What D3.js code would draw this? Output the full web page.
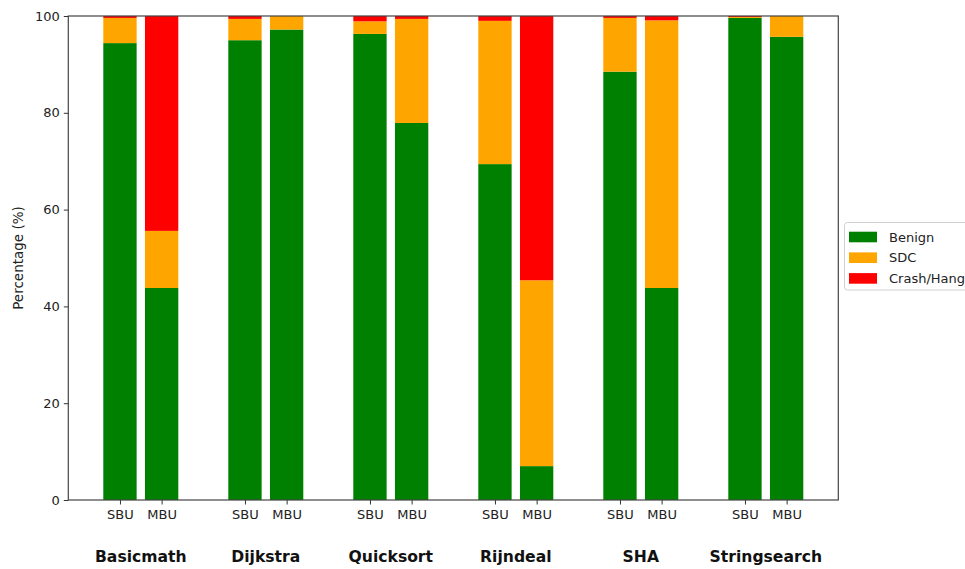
<!DOCTYPE html>
<html>
<head>
<meta charset="utf-8">
<script src="https://cdn.jsdelivr.net/npm/d3@7"></script>
<style>
  html, body { margin: 0; padding: 0; background: #fff; }
  svg { display: block; font-family: "DejaVu Sans", sans-serif; }
</style>
</head>
<body>
<svg id="chart" width="965" height="569"></svg>
<script>
// Benchmarks and upset types
const programs = ["Basicmath", "Dijkstra", "Quicksort", "Rijndeal", "SHA", "Stringsearch"];
const modes = ["SBU", "MBU"];
const outcomes = ["Benign", "SDC", "Crash/Hang"];
const colors = ["#008000", "#ffa500", "#ff0000"];

// Percentages per outcome, ordered SBU, MBU for each program
const benign = [94.4, 43.8, 95.0, 97.2, 96.3, 77.9, 69.4, 7.0, 88.5, 43.8, 99.6, 95.7];
const sdc    = [5.2, 11.8, 4.4, 2.8, 2.6, 21.5, 29.6, 38.4, 11.1, 55.3, 0.2, 4.3];
const crash  = [0.4, 44.4, 0.6, 0.0, 1.1, 0.6, 1.0, 54.6, 0.4, 0.9, 0.2, 0.0];

const yTicks = [0, 20, 40, 60, 80, 100];

const svg = d3.select("#chart");
const plotLeft = 68.3, plotRight = 838.3, plotTop = 16, plotBottom = 500;

// Bars sit at 3*i (SBU) and 3*i + 1 (MBU), width 0.8
const rows = [];
programs.forEach((p, i) => {
  modes.forEach((m, j) => {
    const k = i * 2 + j;
    rows.push({ program: p, mode: m, pos: i * 3 + j,
      Benign: benign[k], SDC: sdc[k], "Crash/Hang": crash[k] });
  });
});

const barW = 0.8;
const lo = -barW / 2, hi = 3 * (programs.length - 1) + 1 + barW / 2;
const pad = (hi - lo) * 0.05;
const x = d3.scaleLinear().domain([lo - pad, hi + pad]).range([plotLeft, plotRight]);
const y = d3.scaleLinear().domain([0, 100]).range([plotBottom, plotTop]);

const stack = d3.stack().keys(outcomes)(rows);

const g = svg.append("g");
stack.forEach((layer, li) => {
  g.selectAll(null).data(layer).join("rect")
    .attr("x", d => x(d.data.pos - barW / 2))
    .attr("width", d => x(barW) - x(0))
    .attr("y", d => y(Math.min(d[1], 100)))
    .attr("height", d => y(d[0]) - y(Math.min(d[1], 100)))
    .attr("fill", colors[li]);
});

// Y axis
const yAxis = svg.append("g")
  .attr("transform", `translate(${plotLeft},0)`)
  .call(d3.axisLeft(y).tickValues(yTicks).tickFormat(d3.format("d")).tickSize(4.5).tickPadding(4));
yAxis.select(".domain").remove();
yAxis.selectAll("line").attr("stroke", "#333").attr("stroke-width", 1);
yAxis.selectAll("text").attr("font-size", 13).attr("fill", "#222")
  .attr("font-family", "DejaVu Sans");

// X axis with SBU/MBU ticks
const xAxis = svg.append("g")
  .attr("transform", `translate(0,${plotBottom})`)
  .call(d3.axisBottom(x).tickValues(rows.map(r => r.pos))
    .tickFormat((d, i) => rows[i].mode).tickSize(4.5).tickPadding(5));
xAxis.select(".domain").remove();
xAxis.selectAll("line").attr("stroke", "#333").attr("stroke-width", 1);
xAxis.selectAll("text").attr("font-size", 13).attr("fill", "#222")
  .attr("font-family", "DejaVu Sans");

// Frame
svg.append("rect")
  .attr("x", plotLeft).attr("y", plotTop)
  .attr("width", plotRight - plotLeft).attr("height", plotBottom - plotTop)
  .attr("fill", "none").attr("stroke", "#444").attr("stroke-width", 1.2);

// Program names under each pair
svg.append("g").selectAll("text").data(programs).join("text")
  .attr("x", (d, i) => x(i * 3 + 0.5))
  .attr("y", 562)
  .attr("text-anchor", "middle")
  .attr("font-size", 15.6)
  .attr("font-weight", "bold")
  .attr("fill", "#111")
  .text(d => d);

// Y axis title
svg.append("text")
  .attr("transform", `translate(23,${(plotTop + plotBottom) / 2}) rotate(-90)`)
  .attr("text-anchor", "middle")
  .attr("font-size", 13.5)
  .attr("fill", "#222")
  .text("Percentage (%)");

// Legend
const lg = svg.append("g");
lg.append("rect")
  .attr("x", 844.5).attr("y", 222.5)
  .attr("width", 140).attr("height", 67.5)
  .attr("rx", 3)
  .attr("fill", "#fff").attr("fill-opacity", 0.8)
  .attr("stroke", "#d0d0d0").attr("stroke-width", 1);
outcomes.forEach((o, i) => {
  const cy = 237 + i * 20.7;
  lg.append("rect")
    .attr("x", 849).attr("y", cy - 5.3)
    .attr("width", 28).attr("height", 10.6)
    .attr("fill", colors[i]);
  lg.append("text")
    .attr("x", 889).attr("y", cy)
    .attr("dy", "0.36em")
    .attr("font-size", 13)
    .attr("fill", "#222")
    .text(o);
});
</script>
</body>
</html>
